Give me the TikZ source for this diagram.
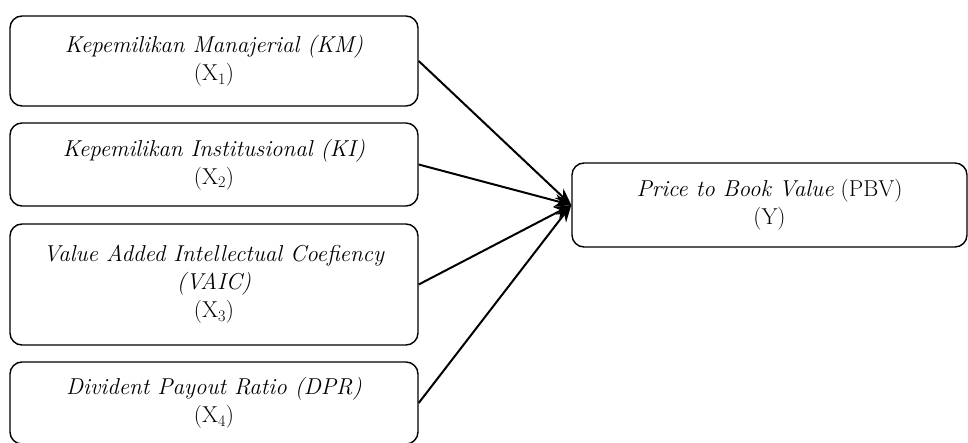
\documentclass[tikz,border=0pt]{standalone}
\usepackage{fontspec}
\usetikzlibrary{arrows.meta}
\begin{document}
\begin{tikzpicture}[x=1pt,y=-1pt,
  varbox/.style={draw, line width=1.4pt, rounded corners=12pt, align=center,
    font=\fontsize{23}{28}\selectfont, inner sep=0pt},
  link/.style={line width=2pt, -{Stealth[length=17pt,width=13pt]}}]
\useasboundingbox (0,0) rectangle (968,443);
\clip (0,0) rectangle (968,443);
\node[varbox, minimum width=408pt, minimum height=90pt] (b1) at (214,61)
  {\textit{Kepemilikan Manajerial (KM)}\\(X\textsubscript{1})};
\node[varbox, minimum width=408pt, minimum height=83pt] (b2) at (214,164.5)
  {\textit{Kepemilikan Institusional (KI)}\\(X\textsubscript{2})};
\node[varbox, minimum width=408pt, minimum height=121pt] (b3) at (214,284.5)
  {\textit{Value Added Intellectual Coefiency}\\\textit{(VAIC)}\\(X\textsubscript{3})};
\node[varbox, minimum width=408pt, minimum height=82pt] (b4) at (214,403)
  {\textit{Divident Payout Ratio (DPR)}\\(X\textsubscript{4})};
\node[varbox, minimum width=395pt, minimum height=84pt] (y) at (769.5,205)
  {\textit{Price to Book Value} (PBV)\\(Y)};
\draw[link] (b1.east) -- (y.west);
\draw[link] (b2.east) -- (y.west);
\draw[link] (b3.east) -- (y.west);
\draw[link] (b4.east) -- (y.west);
\end{tikzpicture}
\end{document}
